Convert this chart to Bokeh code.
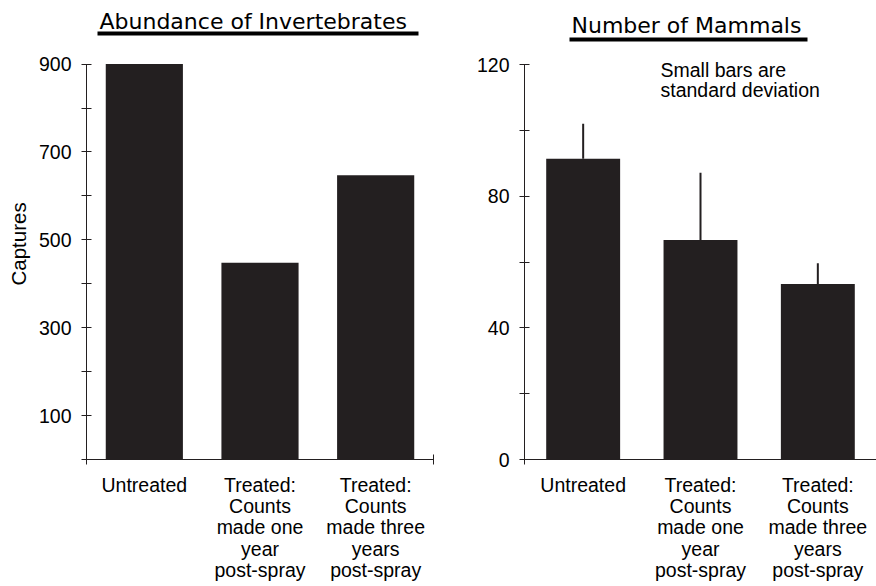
from bokeh.plotting import figure
from bokeh.layouts import row
from bokeh.models import FixedTicker, Label, BoxAnnotation, Range1d, Title
from bokeh.embed import file_html
from bokeh.resources import INLINE

# ---- data ----
categories = ["Untreated",
              "Treated:\nCounts\nmade one\nyear\npost-spray",
              "Treated:\nCounts\nmade three\nyears\npost-spray"]
cat_pos = [1, 2, 3]
invertebrates = [900, 448, 647]
inv_major_ticks = [100, 300, 500, 700, 900]
inv_minor_ticks = [0, 200, 400, 600, 800]
mammals = [91.4, 66.7, 53.3]
mammals_sd = [10.6, 20.4, 6.3]
mam_major_ticks = [0, 40, 80, 120]
mam_minor_ticks = [20, 60, 100]

INK = "#231f20"
SANS = "Liberation Sans"
TITLE_FONT = "DejaVu Sans"
FS = "19.5px"
TOP_GAP = 64  # free space (px) above the highest tick, used by the panel titles


def style(p):
    p.outline_line_color = None
    p.xgrid.visible = False
    p.ygrid.visible = False
    p.background_fill_color = "white"
    p.border_fill_color = "white"
    for ax in (p.xaxis[0], p.yaxis[0]):
        ax.axis_line_color = INK
        ax.axis_line_width = 1
        ax.major_tick_line_color = INK
        ax.minor_tick_line_color = INK
        ax.major_label_text_font = SANS
        ax.major_label_text_font_size = FS
        ax.major_label_text_color = "black"
    xa = p.xaxis[0]
    xa.ticker = FixedTicker(ticks=cat_pos, minor_ticks=[0.5, 3.5])
    xa.major_label_overrides = {k: v for k, v in zip(cat_pos, categories)}
    xa.major_tick_in = 0
    xa.major_tick_out = 0
    xa.minor_tick_in = 5
    xa.minor_tick_out = 5
    xa.major_label_standoff = 9
    xa.major_label_text_line_height = 0.97
    ya = p.yaxis[0]
    ya.major_tick_in = 5
    ya.major_tick_out = 5
    ya.minor_tick_in = 5
    ya.minor_tick_out = 5
    ya.major_label_standoff = 10


def screen_label(p, x, y, text, font, size):
    p.add_layout(Label(x=x, y=y, x_units="screen", y_units="screen", text=text,
                       text_font=font, text_font_size=size, text_color="black",
                       text_baseline="alphabetic", text_align="left"))


def underline(p, left, right, top, bottom):
    p.add_layout(BoxAnnotation(left=left, right=right, top=top, bottom=bottom,
                               left_units="screen", right_units="screen",
                               top_units="screen", bottom_units="screen",
                               fill_color="black", fill_alpha=1, line_color=None,
                               level="overlay"))


# ---- left panel ----
H = 586
L_BOTTOM = 124
l_frame_h = H - L_BOTTOM
l_top = max(inv_major_ticks)
p1 = figure(width=448, height=H, output_backend="svg", toolbar_location=None,
            x_range=Range1d(0.5, 3.5),
            y_range=Range1d(0, l_top * l_frame_h / (l_frame_h - TOP_GAP)),
            min_border_left=86, min_border_right=15, min_border_top=0,
            min_border_bottom=L_BOTTOM)
p1.vbar(x=cat_pos, top=invertebrates, width=0.667, fill_color=INK, line_color=None)
style(p1)
p1.yaxis[0].ticker = FixedTicker(ticks=inv_major_ticks, minor_ticks=inv_minor_ticks)
p1.yaxis[0].bounds = (0, l_top)

screen_label(p1, 13, 438, "Abundance of Invertebrates", TITLE_FONT, "22px")
underline(p1, 11, 332, 428, 424)
p1.add_layout(Title(text="Captures", align="left", vertical_align="top",
                    offset=174, standoff=8,
                    text_font=SANS, text_font_size="20.5px", text_font_style="normal",
                    text_color="black"), "left")

# ---- right panel ----
R_BOTTOM = 127
r_frame_h = H - R_BOTTOM
r_top = max(mam_major_ticks)
p2 = figure(width=428, height=H, output_backend="svg", toolbar_location=None,
            x_range=Range1d(0.5, 3.5),
            y_range=Range1d(0, r_top * r_frame_h / (r_frame_h - TOP_GAP)),
            min_border_left=76, min_border_right=0, min_border_top=0,
            min_border_bottom=R_BOTTOM)
p2.vbar(x=cat_pos, top=mammals, width=0.63, fill_color=INK, line_color=None)
p2.segment(x0=cat_pos, y0=mammals, x1=cat_pos,
           y1=[m + s for m, s in zip(mammals, mammals_sd)],
           line_color=INK, line_width=2)
style(p2)
p2.yaxis[0].ticker = FixedTicker(ticks=mam_major_ticks, minor_ticks=mam_minor_ticks)
p2.yaxis[0].bounds = (0, r_top)

screen_label(p2, 47, 434, "Number of Mammals", TITLE_FONT, "22px")
underline(p2, 45, 283, 422, 418)
screen_label(p2, 136, 390, "Small bars are", SANS, FS)
screen_label(p2, 136, 370, "standard deviation", SANS, FS)

layout = row(p1, p2)
open("out.html", "w").write(file_html(layout, INLINE))
